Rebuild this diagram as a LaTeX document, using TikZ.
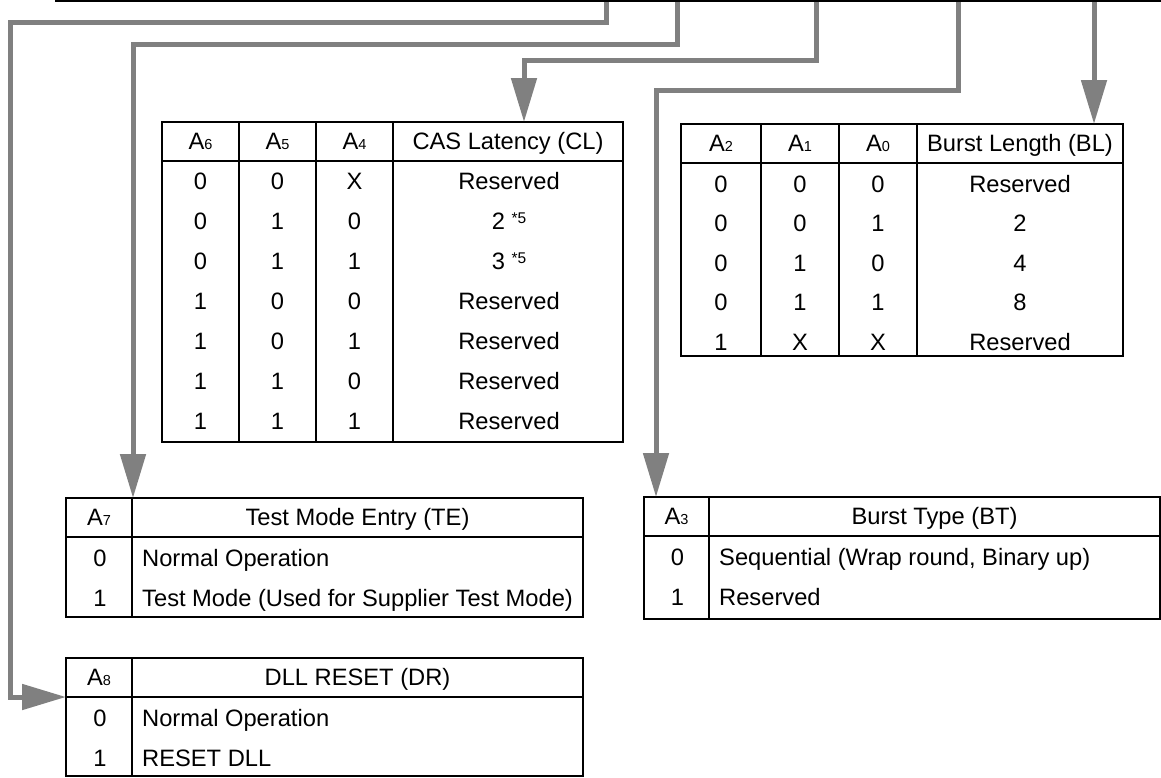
\documentclass[tikz,border=0pt]{standalone}
\usepackage{fontspec}
\setmainfont{Liberation Sans}
\usetikzlibrary{arrows.meta,calc}
\definecolor{busgray}{RGB}{128,128,128}
\newcommand\abit[1]{A{\fontsize{14.5}{14.5}\selectfont #1}}
\newcommand\clnote[1]{\raisebox{6pt}{\fontsize{15.5}{15.5}\selectfont #1}}

\begin{document}
\begin{tikzpicture}[
    x=1pt, y=-1pt,
    font=\fontsize{23.7}{28}\selectfont,
    cellbox/.style={draw, line width=2.5pt, inner sep=0pt, outer sep=0pt,
      anchor=north west, text height=16.8pt, text depth=0pt},
    celltext/.style={inner sep=0pt, text height=16.8pt, text depth=0pt},
    busfeed/.style={draw=busgray, line width=5pt, -{Triangle[width=25pt,length=44pt]}},
  ]
  \useasboundingbox (0,0) rectangle (1161,777);

  % CAS latency
  \foreach \n/\x/\w/\head in {1/162/77/{\abit{6}}, 2/239/77/{\abit{5}},
      3/316/77/{\abit{4}}, 4/393/230/{CAS Latency (CL)}} {
    \node[cellbox, minimum width=\w, minimum height=39] (cl-h\n) at (\x,122) {\head};
    \node[cellbox, minimum width=\w, minimum height=281] (cl-c\n) at (\x,161) {};
  }
  \foreach \ka/\kb/\kc/\val [count=\i from 0] in {0/0/X/Reserved, 0/1/0/{2 \clnote{*5}},
      0/1/1/{3 \clnote{*5}}, 1/0/0/Reserved, 1/0/1/Reserved, 1/1/0/Reserved, 1/1/1/Reserved} {
    \node[celltext] (cl-\i-1) at (200.5,{181+40*\i}) {\ka};
    \node[celltext] (cl-\i-2) at (277.5,{181+40*\i}) {\kb};
    \node[celltext] (cl-\i-3) at (354.5,{181+40*\i}) {\kc};
    \node[celltext] (cl-\i-4) at (509,{181+40*\i}) {\val};
  }

  % burst length
  \foreach \n/\x/\w/\head in {1/681/80/{\abit{2}}, 2/761/78/{\abit{1}},
      3/839/78/{\abit{0}}, 4/917/206/{Burst Length (BL)}} {
    \node[cellbox, minimum width=\w, minimum height=39] (bl-h\n) at (\x,124) {\head};
    \node[cellbox, minimum width=\w, minimum height=193] (bl-c\n) at (\x,163) {};
  }
  \foreach \ka/\kb/\kc/\val [count=\i from 0] in {0/0/0/Reserved, 0/0/1/2,
      0/1/0/4, 0/1/1/8, 1/X/X/Reserved} {
    \node[celltext] (bl-\i-1) at (721,{184+39.5*\i}) {\ka};
    \node[celltext] (bl-\i-2) at (800,{184+39.5*\i}) {\kb};
    \node[celltext] (bl-\i-3) at (878,{184+39.5*\i}) {\kc};
    \node[celltext] (bl-\i-4) at (1020,{184+39.5*\i}) {\val};
  }

  % test mode, dll reset, burst type
  \foreach \tb/\x/\y/\kw/\bh/\k/\head in {te/66/498/66/80/7/{Test Mode Entry (TE)},
      dr/66/658/66/79/8/{DLL RESET (DR)}, bt/644/497/65/83/3/{Burst Type (BT)}} {
    \node[cellbox, minimum width=\kw, minimum height=39] (\tb-h1) at (\x,\y) {\abit{\k}};
    \node[cellbox, minimum width=451, minimum height=39] (\tb-h2) at (\tb-h1.north east) {\head};
    \node[cellbox, minimum width=\kw, minimum height=\bh] (\tb-c1) at (\tb-h1.south west) {};
    \node[cellbox, minimum width=451, minimum height=\bh] (\tb-c2) at (\tb-h1.south east) {};
  }
  \foreach \tb/\row/\val in {te/0/Normal Operation, te/1/{Test Mode (Used for Supplier Test Mode)},
      dr/0/Normal Operation, dr/1/RESET DLL,
      bt/0/{Sequential (Wrap round, Binary up)}, bt/1/Reserved} {
    \node[celltext] (\tb-\row-1) at ($(\tb-c1.north)+(1,21+40*\row)$) {\row};
    \node[celltext, anchor=west] (\tb-\row-2) at ($(\tb-c2.north west)+(10,21+40*\row)$) {\val};
  }

  % register bus
  \coordinate (bus-w) at (55,1.2);
  \coordinate (bus-e) at (1161,1.2);
  \foreach \tap/\x in {dr/606, te/677, cl/816, bt/958, bl/1094}
    \coordinate (tap-\tap) at (\x,0);
  \coordinate (dr-turn) at (10,22);
  \coordinate (te-turn) at (133,44);
  \coordinate (cl-turn) at (524,60);
  \coordinate (bt-turn) at (656,90);
  \draw[busfeed] (tap-dr) |- (dr-turn) |- (dr-h1.south west);
  \draw[busfeed] (tap-te) |- (te-turn) -- (te-turn |- te-h1.north);
  \draw[busfeed] (tap-cl) |- (cl-turn) -- (cl-turn |- cl-h4.north);
  \draw[busfeed] (tap-bt) |- (bt-turn) -- (bt-turn |- bt-h1.north);
  \draw[busfeed] (tap-bl) -- (tap-bl |- bl-h4.north);
  \draw[line width=2.5pt] (bus-w) -- (bus-e);
\end{tikzpicture}
\end{document}
